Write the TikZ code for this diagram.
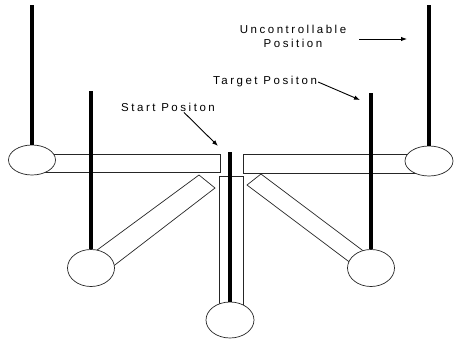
\documentclass[tikz,border=0pt]{standalone}
\usepackage{fontspec}
\setmainfont{Liberation Sans}
\newfontfamily\tagfont[LetterSpace=22]{Liberation Sans}
\usetikzlibrary{shapes,arrows.meta}
\tikzstyle{rod} = [line width=3.4pt]
\tikzstyle{link} = [draw=black!85, fill=white, line width=0.7pt]
\tikzstyle{joint} = [ellipse, draw=black!85, fill=white, line width=0.7pt,
    inner sep=0pt]
\tikzstyle{tag} = [font=\tagfont\fontsize{11.5}{14}\selectfont, align=center,
    inner sep=1pt]
\tikzstyle{pointer} = [draw, line width=0.9pt, -{Latex[length=6,width=4.5]}]

\begin{document}
\begin{tikzpicture}[x=1pt,y=-1pt]
    \useasboundingbox (0,0) rectangle (455,340);

    % Draw links
    \draw [link] (40,154) rectangle (220,172);
    \draw [link] (243,154) rectangle (420,173);
    \draw [link] (219,176) rectangle (243,310);
    \draw [link] (89,256) -- (199,175) -- (215,188) -- (107,271) -- cycle;
    \draw [link] (247,185) -- (261,174) -- (370,256) -- (356,267) -- cycle;

    % Place joints
    \node [joint, minimum width=47, minimum height=30] (jleft) at (32,160) {};
    \node [joint, minimum width=48, minimum height=30] (jright) at (429,161) {};
    \node [joint, minimum width=47, minimum height=37] (jlow1) at (91,268) {};
    \node [joint, minimum width=47, minimum height=37] (jlow2) at (371,268) {};
    \node [joint, minimum width=48, minimum height=36] (jbase) at (230,320) {};

    % Draw rods
    \draw [rod] (32,5) -- (jleft.north);
    \draw [rod] (91,91) -- (jlow1.north);
    \draw [rod] (230,152) -- (jbase.north);
    \draw [rod] (371,93) -- (jlow2.north);
    \draw [rod] (429,5) -- (jright.north);

    % Place labels
    \node [tag] (start) at (168,107) {Start Positon};
    \node [tag] (target) at (265,82) {Target Positon};
    \node [tag] (unc) at (293,36) {Uncontrollable\\Position};

    \coordinate (startpt) at (218,146);
    \coordinate (targetpt) at (360,100);
    \coordinate (uncpt) at (407,39);

    % Draw pointers
    \path [pointer] ([xshift=16]start.south) -- (startpt);
    \path [pointer] (target.east) -- (targetpt);
    \path [pointer] ([xshift=12,yshift=-3]unc.east) -- (uncpt);

\end{tikzpicture}
\end{document}
